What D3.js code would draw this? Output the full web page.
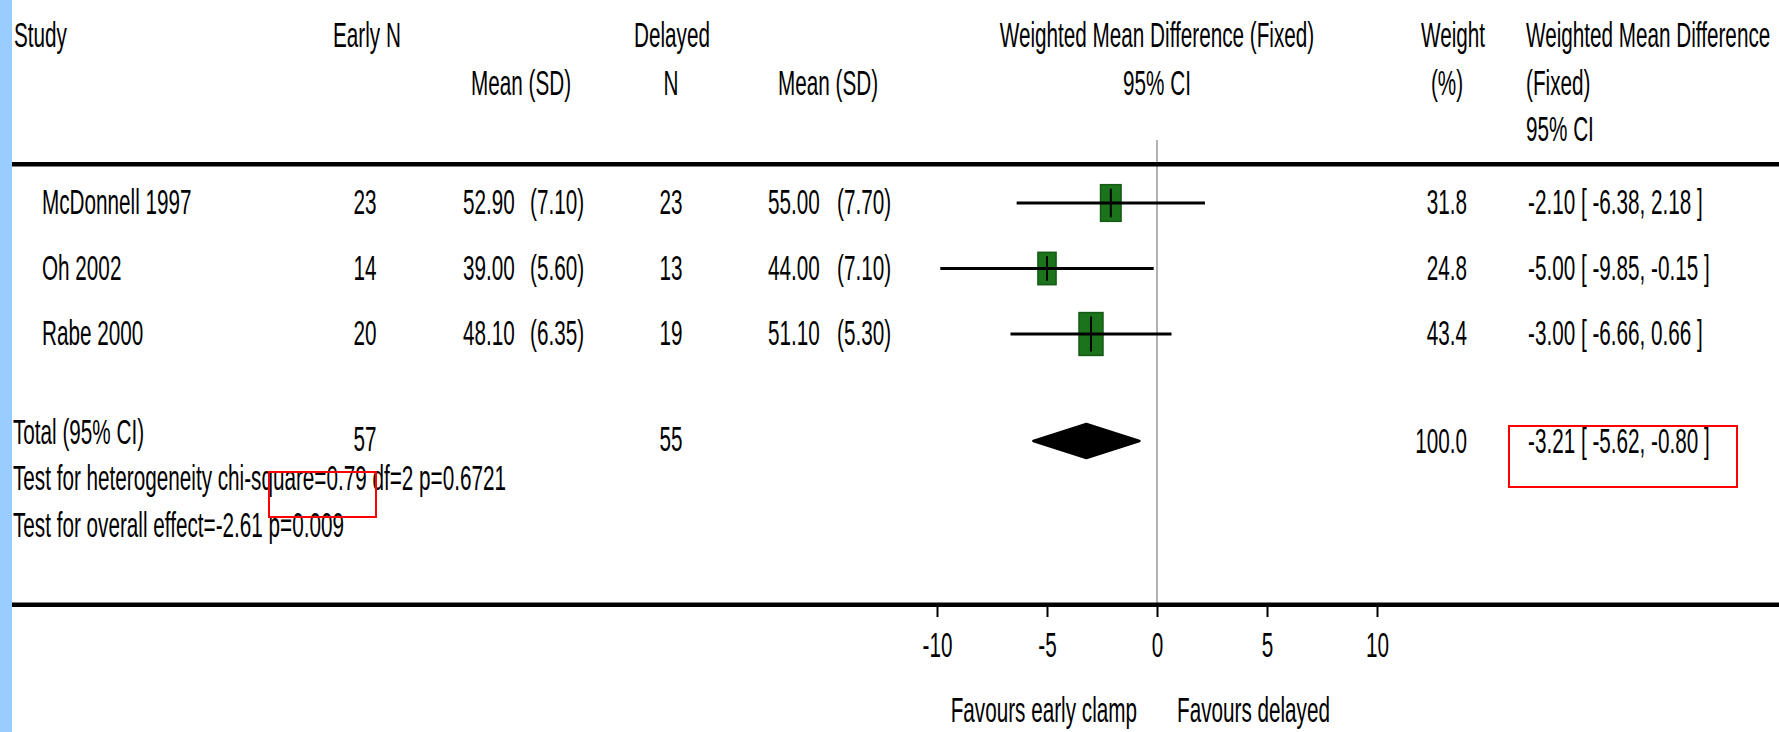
<!DOCTYPE html>
<html><head><meta charset="utf-8">
<script src="https://cdn.jsdelivr.net/npm/d3@7"></script>
<style>html,body{margin:0;padding:0;background:#fff;overflow:hidden}</style>
</head><body>
<svg id="chart" width="1779" height="732"></svg>
<script>
// ---- data ----
const studies      = ["McDonnell 1997", "Oh 2002", "Rabe 2000"];
const earlyN       = [23, 14, 20];
const earlyMean    = ["52.90", "39.00", "48.10"];
const earlySD      = ["7.10", "5.60", "6.35"];
const delayedN     = [23, 13, 19];
const delayedMean  = ["55.00", "44.00", "51.10"];
const delayedSD    = ["7.70", "7.10", "5.30"];
const weights      = [31.8, 24.8, 43.4];
const wmd          = [-2.10, -5.00, -3.00];
const ciLow        = [-6.38, -9.85, -6.66];
const ciHigh       = [2.18, -0.15, 0.66];
const totalEarlyN  = 57;
const totalDelayedN = 55;
const totalWeight  = 100.0;
const totalWmd     = [-3.21, -5.62, -0.80];
const axisTicks    = [-10, -5, 0, 5, 10];
const heteroText   = "Test for heterogeneity chi-square=0.79 df=2 p=0.6721";
const overallText  = "Test for overall effect=-2.61 p=0.009";
const favourLeft   = "Favours early clamp";
const favourRight  = "Favours delayed";

// ---- setup ----
const W = 1779, H = 732;
const svg = d3.select("#chart");
const FONT = "'Liberation Sans', Arial, sans-serif";
const FS = 20.7, SY = 1.7;

function txt(x, y, s, anchor) {
  return svg.append("text")
    .attr("transform", `translate(${x},${y}) scale(1,${SY})`)
    .attr("text-anchor", anchor || "start")
    .attr("font-family", FONT).attr("font-size", FS).attr("fill", "#000")
    .text(s);
}
const loc = d3.formatLocale({decimal: ".", thousands: ",", grouping: [3], currency: ["", ""], minus: "-"});
const f2 = loc.format(".2f");
const f1 = loc.format(".1f");

svg.append("rect").attr("width", W).attr("height", H).attr("fill", "#fff");
svg.append("rect").attr("x", 0).attr("y", 0).attr("width", 12).attr("height", H).attr("fill", "#99ccff");

// scales
const x = d3.scaleLinear().domain([-10, 10]).range([937, 1377]);
const y = d3.scalePoint().domain(studies).range([203, 334]);
const boxH = d3.scaleSqrt().domain([0, 100]).range([0, 65]);
const totalY = 441;

// zero line
svg.append("line").attr("x1", x(0)).attr("x2", x(0)).attr("y1", 140).attr("y2", 604)
  .attr("stroke", "#b3b3b3").attr("stroke-width", 2);

// header rule and bottom rule
svg.append("rect").attr("x", 12).attr("y", 162).attr("width", W - 12).attr("height", 4.5).attr("fill", "#000");
svg.append("rect").attr("x", 12).attr("y", 602.5).attr("width", W - 12).attr("height", 4.5).attr("fill", "#000");

// headers
txt(14, 47, "Study");
txt(333, 47, "Early N");
txt(471, 95, "Mean (SD)");
txt(634, 47, "Delayed");
txt(671, 95, "N", "middle");
txt(778, 95, "Mean (SD)");
txt(x(0), 47, "Weighted Mean Difference (Fixed)", "middle");
txt(x(0), 95, "95% CI", "middle");
txt(1421, 47, "Weight");
txt(1447, 95, "(%)", "middle");
txt(1526, 47, "Weighted Mean Difference");
txt(1526, 95, "(Fixed)");
txt(1526, 141, "95% CI");

// study rows
studies.forEach((s, i) => {
  const yb = y(s) + 11;
  txt(42, yb, s);
  txt(365, yb, earlyN[i], "middle");
  txt(463, yb, earlyMean[i]);
  txt(530, yb, "(" + earlySD[i] + ")");
  txt(671, yb, delayedN[i], "middle");
  txt(768, yb, delayedMean[i]);
  txt(837, yb, "(" + delayedSD[i] + ")");
  txt(1467, yb, f1(weights[i]), "end");
  txt(1528, yb, `${f2(wmd[i])} [ ${f2(ciLow[i])}, ${f2(ciHigh[i])} ]`);
});

// boxes
const g = svg.append("g");
studies.forEach((s, i) => {
  const h = boxH(weights[i]), w = h * 0.56;
  g.append("rect").attr("x", x(wmd[i]) - w / 2).attr("y", y(s) - h / 2)
    .attr("width", w).attr("height", h)
    .attr("fill", "#1b731b").attr("stroke", "#145a14").attr("stroke-width", 1.5);
});
studies.forEach((s, i) => {
  g.append("line").attr("x1", x(ciLow[i])).attr("x2", x(ciHigh[i]))
    .attr("y1", y(s)).attr("y2", y(s)).attr("stroke", "#000").attr("stroke-width", 3);
  const h = boxH(weights[i]);
  g.append("line").attr("x1", x(wmd[i])).attr("x2", x(wmd[i]))
    .attr("y1", y(s) - h / 2 + 4).attr("y2", y(s) + h / 2 - 4)
    .attr("stroke", "#000").attr("stroke-width", 2);
});

// total
txt(13, 444, "Total (95% CI)");
txt(365, 451, totalEarlyN, "middle");
txt(671, 451, totalDelayedN, "middle");
txt(1467, 453, f1(totalWeight), "end");
txt(1528, 453, `${f2(totalWmd[0])} [ ${f2(totalWmd[1])}, ${f2(totalWmd[2])} ]`);
const dh = 17;
g.append("polygon")
  .attr("points", [
    [x(totalWmd[1]), totalY], [x(totalWmd[0]), totalY - dh],
    [x(totalWmd[2]), totalY], [x(totalWmd[0]), totalY + dh]
  ].map(p => p.join(",")).join(" "))
  .attr("fill", "#000").attr("stroke", "#000").attr("stroke-width", 2.5).attr("stroke-linejoin", "round");

txt(13, 490, heteroText);
txt(13, 537, overallText);

// axis
const ax = svg.append("g").attr("transform", "translate(0,605)")
  .call(d3.axisBottom(x).tickValues(axisTicks).tickSize(12).tickSizeOuter(0).tickFormat(d => String(d)));
ax.select(".domain").remove();
ax.selectAll(".tick line").attr("stroke", "#000").attr("stroke-width", 2);
ax.selectAll(".tick text")
  .attr("y", 0).attr("dy", 0)
  .attr("transform", `translate(0,52) scale(1,${SY})`)
  .attr("font-family", FONT).attr("font-size", FS).attr("fill", "#000");

txt(x(0) - 20, 722, favourLeft, "end");
txt(x(0) + 20, 722, favourRight, "start");

// red annotation boxes
svg.append("rect").attr("x", 269).attr("y", 472).attr("width", 107).attr("height", 45)
  .attr("fill", "none").attr("stroke", "#ff0000").attr("stroke-width", 2);
svg.append("rect").attr("x", 1509).attr("y", 426).attr("width", 228).attr("height", 61)
  .attr("fill", "none").attr("stroke", "#ff0000").attr("stroke-width", 2);
</script>
</body></html>
